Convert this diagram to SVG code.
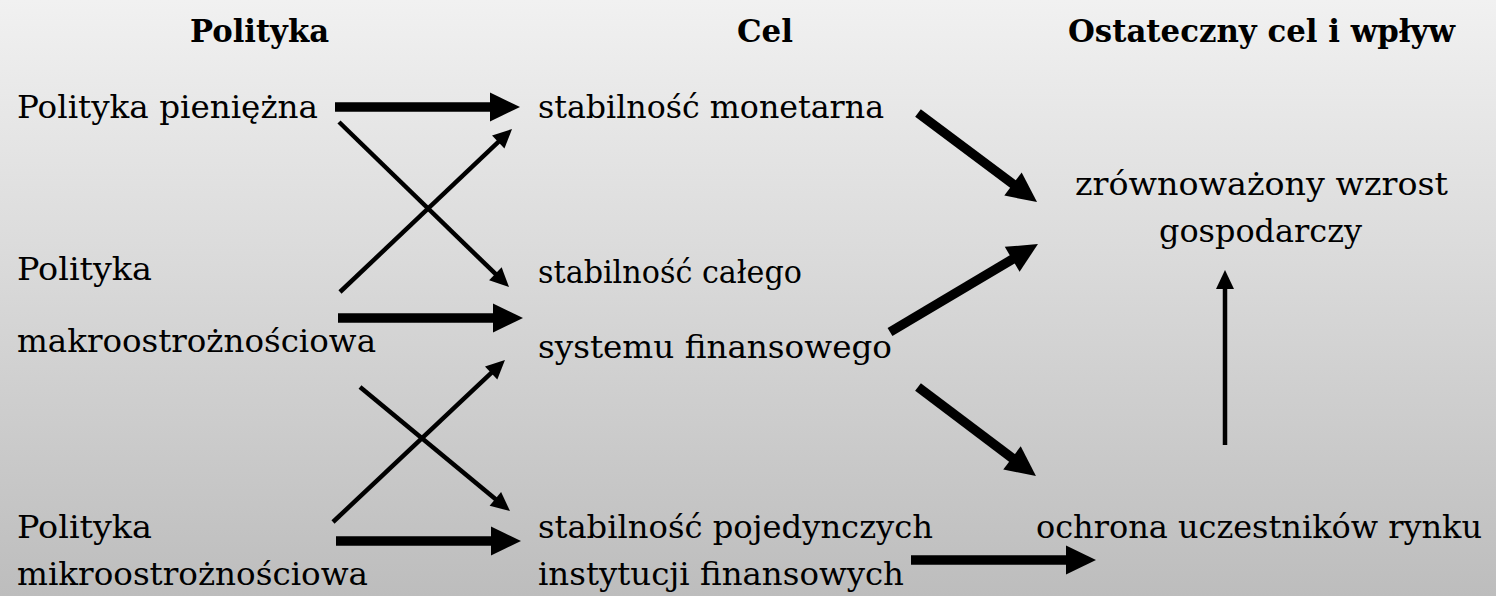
<svg xmlns="http://www.w3.org/2000/svg" width="1496" height="596" viewBox="0 0 1496 596">
<defs>
<linearGradient id="bg" x1="0" y1="0" x2="0" y2="1">
<stop offset="0" stop-color="#f1f1f1"/>
<stop offset="1" stop-color="#bdbdbd"/>
</linearGradient>
<marker id="headThick" markerUnits="userSpaceOnUse" markerWidth="30" markerHeight="30" refX="2" refY="14.5" orient="auto" viewBox="0 0 30 29" overflow="visible">
<path d="M0,0 L30,14.5 L0,29 z" fill="#000"/>
</marker>
<marker id="headThin" markerUnits="userSpaceOnUse" markerWidth="19" markerHeight="19" refX="2" refY="9" orient="auto" viewBox="0 0 19 18" overflow="visible">
<path d="M0,0 L19,9 L0,18 z" fill="#000"/>
</marker>
</defs>
<style>
text{font-family:"DejaVu Serif","Liberation Serif",serif;font-size:32px;fill:#000}
.h{font-weight:bold}
.thick{stroke:#000;stroke-width:9.5;fill:none;marker-end:url(#headThick)}
.thin{stroke:#000;stroke-width:4.5;fill:none;marker-end:url(#headThin)}
</style>
<rect x="0" y="0" width="1496" height="596" fill="url(#bg)"/>
<g id="headers">
<text class="h" x="190" y="42" textLength="139" lengthAdjust="spacingAndGlyphs">Polityka</text>
<text class="h" x="737" y="42" textLength="56" lengthAdjust="spacingAndGlyphs">Cel</text>
<text class="h" x="1068" y="42" textLength="387" lengthAdjust="spacingAndGlyphs">Ostateczny cel i wpływ</text>
</g>
<g id="node-pieniezna">
<text x="17" y="118" textLength="301" lengthAdjust="spacingAndGlyphs">Polityka pieniężna</text>
</g>
<g id="node-makro">
<text x="17" y="280" textLength="135" lengthAdjust="spacingAndGlyphs">Polityka</text>
<text x="17" y="352" textLength="359" lengthAdjust="spacingAndGlyphs">makroostrożnościowa</text>
</g>
<g id="node-mikro">
<text x="17" y="538" textLength="135" lengthAdjust="spacingAndGlyphs">Polityka</text>
<text x="17" y="585" textLength="351" lengthAdjust="spacingAndGlyphs">mikroostrożnościowa</text>
</g>
<g id="node-monetarna">
<text x="538" y="118" textLength="346" lengthAdjust="spacingAndGlyphs">stabilność monetarna</text>
</g>
<g id="node-system">
<text x="538" y="283" textLength="264" lengthAdjust="spacingAndGlyphs">stabilność całego</text>
<text x="538" y="358" textLength="354" lengthAdjust="spacingAndGlyphs">systemu finansowego</text>
</g>
<g id="node-instytucje">
<text x="538" y="538" textLength="395" lengthAdjust="spacingAndGlyphs">stabilność pojedynczych</text>
<text x="538" y="585" textLength="366" lengthAdjust="spacingAndGlyphs">instytucji finansowych</text>
</g>
<g id="node-wzrost">
<text x="1075" y="195" textLength="373" lengthAdjust="spacingAndGlyphs">zrównoważony wzrost</text>
<text x="1159" y="242" textLength="203" lengthAdjust="spacingAndGlyphs">gospodarczy</text>
</g>
<g id="node-ochrona">
<text x="1036" y="538" textLength="446" lengthAdjust="spacingAndGlyphs">ochrona uczestników rynku</text>
</g>
<g id="connectors">
<line class="thick" x1="335" y1="107" x2="492" y2="107"/>
<line class="thick" x1="338" y1="318" x2="495" y2="318"/>
<line class="thick" x1="336" y1="541" x2="493" y2="541"/>
<line class="thick" x1="911" y1="560" x2="1068" y2="560"/>
<line class="thick" x1="918" y1="113" x2="1014.6" y2="185.2"/>
<line class="thick" x1="890" y1="332" x2="1013.9" y2="258.3"/>
<line class="thick" x1="918" y1="387" x2="1013.6" y2="459.1"/>
<line class="thin" x1="339" y1="122" x2="496.8" y2="275.2"/>
<line class="thin" x1="340" y1="292" x2="499.7" y2="140.7"/>
<line class="thin" x1="360" y1="387" x2="496.9" y2="500.2"/>
<line class="thin" x1="333" y1="522" x2="492.6" y2="371.7"/>
<line class="thin" x1="1225" y1="445" x2="1225" y2="287"/>
</g>
</svg>
